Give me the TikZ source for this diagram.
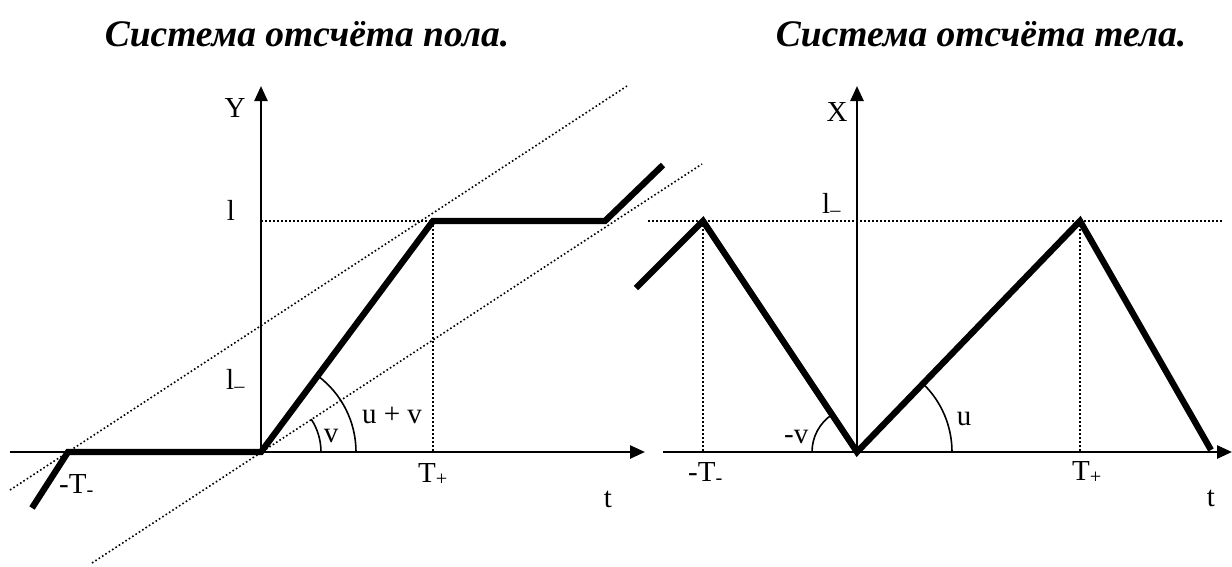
\documentclass[tikz,border=0pt]{standalone}
\usepackage{fontspec}
\setmainfont{Liberation Serif}
\usetikzlibrary{arrows.meta,calc}
\begin{document}
\begin{tikzpicture}[x=1pt,y=-1pt,
  axis/.style={line width=2.5pt,-{Triangle[length=15pt,width=13pt]}},
  graph/.style={line width=6.3pt,line join=miter},
  dots/.style={line width=1.6pt,dash pattern=on 1.6pt off 2.4pt},
  anglearc/.style={line width=1.6pt},
  lbl/.style={inner sep=0pt,font=\fontsize{29}{32}\selectfont},
  ttl/.style={inner sep=0pt,anchor=base,font=\fontsize{37.5}{40}\selectfont\bfseries\itshape}]
\useasboundingbox (0,0) rectangle (1232,566);
% titles
\node[ttl] (t1) at (307,46) {Система отсчёта пола.};
\node[ttl] (t2) at (981,46) {Система отсчёта тела.};
% ---------- left graph ----------
\coordinate (OL) at (261,452);
\coordinate (tLs) at (10,452);
\coordinate (tLe) at (645,452);
\coordinate (YLe) at (261,86);
\coordinate (A0) at (32,508);
\coordinate (A1) at (68,452);
\coordinate (A2) at (433,221);
\coordinate (A3) at (605,221);
\coordinate (A4) at (663,165);
\coordinate (D1s) at (10,490);
\coordinate (D1e) at (627,86);
\coordinate (D2s) at (92,563);
\coordinate (D2e) at (702,164);
\coordinate (LA) at (261,221);
\coordinate (TA) at (433,452);
\draw[dots] (D1s) -- (D1e);
\draw[dots] (D2s) -- (D2e);
\draw[dots] (LA) -- (A2) -- (TA);
\draw[axis] (tLs) -- (tLe);
\draw[axis] (OL) -- (YLe);
\draw[graph] (A0) -- (A1) -- (OL) -- (A2) -- (A3) -- (A4);
\draw[anglearc] ($(OL)+(60,0)$) arc[start angle=0,end angle=-33.2,radius=60];
\draw[anglearc] ($(OL)+(95,0)$) arc[start angle=0,end angle=-53.3,radius=95];
\node[lbl] (Ylab) at (235,108) {Y};
\node[lbl,anchor=base] (lL) at (231,220) {l};
\node[lbl,anchor=base west] (lmL) at (226,389) {l\textsubscript{–}};
\node[lbl,anchor=base] (vL) at (331,442) {v};
\node[lbl,anchor=base] (uvL) at (392,423) {u + v};
\node[lbl,anchor=base west] (TmL) at (59,493) {-T\textsubscript{-}};
\node[lbl,anchor=base west] (TpL) at (418,482) {T\textsubscript{+}};
\node[lbl,anchor=base] (tL) at (608,507) {t};
% ---------- right graph ----------
\coordinate (OR) at (857,452);
\coordinate (tRs) at (663,452);
\coordinate (tRe) at (1232,452);
\coordinate (XRe) at (857,86);
\coordinate (B0) at (636,288);
\coordinate (B1) at (703,221);
\coordinate (B2) at (1080,221);
\coordinate (B3) at (1211,450);
\coordinate (Hs) at (648,221);
\coordinate (He) at (1222,221);
\coordinate (V1) at (703,452);
\coordinate (V2) at (1080,452);
\draw[dots] (Hs) -- (He);
\draw[dots] (B1) -- (V1);
\draw[dots] (B2) -- (V2);
\draw[axis] (tRs) -- (tRe);
\draw[axis] (OR) -- (XRe);
\draw[graph] (B0) -- (B1) -- (OR) -- (B2) -- (B3);
\draw[anglearc] ($(OR)+(-45,0)$) arc[start angle=-180,end angle=-123.7,radius=45];
\draw[anglearc] ($(OR)+(95,0)$) arc[start angle=0,end angle=-46,radius=95];
\node[lbl] (Xlab) at (837,112) {X};
\node[lbl,anchor=base west] (lmR) at (822,213) {l\textsubscript{–}};
\node[lbl,anchor=base west] (vR) at (784,443) {-v};
\node[lbl,anchor=base] (uR) at (964,425) {u};
\node[lbl,anchor=base west] (TmR) at (688,481) {-T\textsubscript{-}};
\node[lbl,anchor=base west] (TpR) at (1072,480) {T\textsubscript{+}};
\node[lbl,anchor=base] (tR) at (1211,506) {t};
\end{tikzpicture}
\end{document}
